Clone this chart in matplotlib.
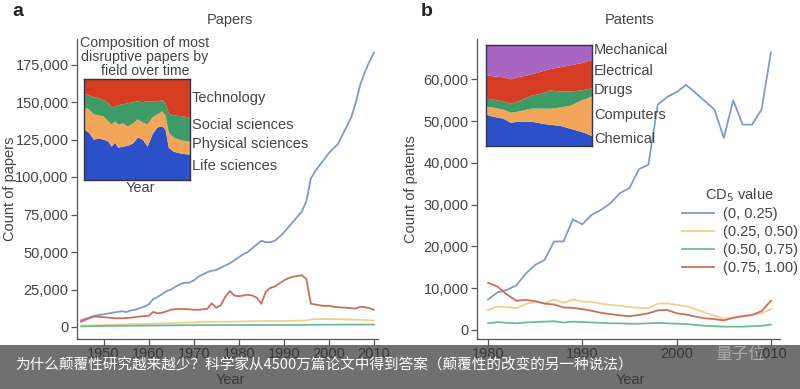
import matplotlib
matplotlib.use("Agg")
import matplotlib.pyplot as plt
from matplotlib.patches import Rectangle
from matplotlib.ticker import FuncFormatter

plt.rcParams['font.family'] = ['Liberation Sans', 'Noto Sans CJK SC', 'DejaVu Sans']

# ---------------- data: papers ----------------
paper_years = list(range(1945, 2011))
paper_cd_0_25 = [4500, 5500, 6500, 7500, 8000, 8500, 9000, 9500, 10000, 10500,
                 10000, 11000, 11500, 12500, 13500, 15000, 18500, 20000, 22000, 24000,
                 25000, 27000, 28500, 29500, 29500, 31000, 33500, 35000, 36500, 37500,
                 38000, 39500, 41000, 42500, 44500, 46500, 48500, 50000, 52500, 55000,
                 57500, 56500, 56500, 57500, 60000, 63000, 66500, 70000, 73500, 77000,
                 84000, 99000, 104000, 108000, 112000, 116000, 119000, 122000, 128000, 134000,
                 140000, 150000, 162000, 170000, 177000, 183000]
paper_cd_25_50 = [900, 1000, 1100, 1200, 1300, 1400, 1500, 1600, 1650, 1700,
                  1800, 1850, 1900, 1950, 2000, 2100, 2200, 2300, 2400, 2500,
                  2600, 2700, 2800, 2900, 3000, 3100, 3200, 3300, 3350, 3400,
                  3450, 3500, 3550, 3600, 3650, 3700, 3750, 3800, 3850, 3900,
                  3900, 3950, 3950, 4000, 4000, 4000, 4100, 4100, 4200, 4250,
                  4300, 5100, 5200, 5300, 5300, 5300, 5200, 5200, 5100, 5000,
                  5000, 4900, 4800, 4700, 4500, 4300]
paper_cd_50_75 = [400, 450, 500, 550, 600, 650, 700, 700, 750, 800,
                  800, 850, 850, 900, 900, 950, 1000, 1000, 1050, 1100,
                  1100, 1150, 1150, 1200, 1200, 1200, 1250, 1250, 1250, 1300,
                  1300, 1300, 1300, 1300, 1300, 1300, 1300, 1300, 1300, 1300,
                  1300, 1300, 1300, 1300, 1300, 1300, 1350, 1350, 1350, 1350,
                  1400, 1500, 1500, 1500, 1550, 1550, 1550, 1550, 1600, 1600,
                  1600, 1600, 1600, 1600, 1600, 1600]
paper_cd_75_100 = [3500, 4800, 6000, 7000, 6800, 6500, 6300, 6000, 5800, 5800,
                   6000, 6200, 6600, 7000, 7200, 7500, 10000, 9200, 9500, 10500,
                   11500, 12000, 12000, 12000, 11800, 11500, 11500, 11800, 12000, 15800,
                   12800, 14500, 20000, 24000, 21000, 20500, 21000, 21500, 21000, 19500,
                   15500, 23500, 26000, 27000, 29000, 31000, 32500, 33500, 34000, 34500,
                   32000, 15500, 15000, 14500, 14000, 14200, 13500, 13200, 13000, 12800,
                   12500, 12300, 13500, 13200, 12500, 11500]

# ---------------- data: patents ----------------
patent_years = list(range(1980, 2011))
patent_cd_0_25 = [7300, 9000, 9600, 10700, 13500, 15600, 16800, 21200, 21200, 26500,
                  25300, 27600, 28800, 30400, 32800, 34000, 38500, 39600, 54000, 55800,
                  57000, 58700, 56800, 54800, 52800, 46000, 55000, 49200, 49200, 52800,
                  66500]
patent_cd_25_50 = [4800, 5600, 5500, 5200, 6200, 6800, 6400, 7300, 6500, 7300,
                   6800, 6700, 6300, 6000, 5800, 5500, 5300, 5200, 6300, 6400,
                   6000, 5700, 5000, 4200, 3400, 2700, 3000, 3300, 3600, 4000,
                   5000]
patent_cd_50_75 = [1600, 1900, 1700, 1600, 1800, 1900, 2000, 2100, 1800, 2000,
                   1900, 1800, 1700, 1600, 1600, 1500, 1500, 1600, 1700, 1600,
                   1500, 1400, 1200, 1000, 900, 800, 800, 800, 900, 1000,
                   1300]
patent_cd_75_100 = [11300, 10400, 8500, 7000, 7200, 6900, 6300, 6100, 5400, 5300,
                    5000, 4600, 4100, 3800, 3500, 3300, 3600, 4000, 4700, 4800,
                    4000, 3700, 3200, 2800, 2600, 2300, 2900, 3300, 3600, 4500,
                    7000]

cd_labels = ['(0, 0.25)', '(0.25, 0.50)', '(0.50, 0.75)', '(0.75, 1.00)']
line_colors = ['#7f9ad0', '#f3cf8c', '#6dbb98', '#c8705c']

# ---------------- data: inset compositions ----------------
inset_a_years = [1945, 1948, 1951, 1954, 1957, 1960, 1962, 1964, 1966, 1969, 1972, 1975,
                 1978, 1981, 1984, 1987, 1990, 1993, 1995, 1997, 2000, 2005, 2010]
life_sci = [.50, .47, .40, .41, .40, .38, .33, .37, .32, .33, .34, .36,
            .42, .40, .33, .45, .52, .53, .50, .32, .28, .26, .25]
phys_sci = [.22, .23, .25, .23, .23, .20, .22, .21, .23, .23, .19, .20,
            .18, .17, .22, .17, .13, .15, .14, .15, .14, .13, .13]
soc_sci = [.13, .14, .17, .17, .16, .18, .17, .15, .19, .19, .23, .21,
           .18, .20, .23, .16, .13, .11, .12, .19, .22, .24, .24]
technology = [.15, .16, .18, .19, .21, .24, .28, .27, .26, .25, .24, .23,
              .22, .23, .22, .22, .22, .21, .24, .34, .36, .37, .38]
inset_a_labels = ['Life sciences', 'Physical sciences', 'Social sciences', 'Technology']

inset_b_years = [1980, 1982, 1985, 1987, 1989, 1993, 1996, 1998, 2001, 2004, 2007, 2010]
chemical = [.31, .29, .27, .23, .24, .24, .22, .21, .20, .17, .14, .10]
computers = [.08, .09, .09, .10, .10, .13, .15, .16, .18, .23, .31, .39]
drugs = [.08, .08, .08, .09, .10, .13, .15, .18, .16, .14, .10, .08]
electrical = [.23, .23, .24, .24, .24, .21, .22, .21, .24, .26, .27, .28]
mechanical = [.30, .31, .32, .34, .32, .29, .26, .24, .22, .20, .18, .15]
inset_b_labels = ['Chemical', 'Computers', 'Drugs', 'Electrical', 'Mechanical']

area_colors = ['#2b50c8', '#f3a65a', '#3d9c66', '#d63c22', '#a965c4']

caption = '为什么颠覆性研究越来越少？科学家从4500万篇论文中得到答案（颠覆性的改变的另一种说法）'

# ---------------- figure ----------------
W, H = 800, 389
fig = plt.figure(figsize=(8, 3.89), dpi=100)

def fx(px):
    return px / W

def fy(py):
    return 1 - py / H

txt_col = '#444444'
fs = 10.5

def style_axes(ax):
    for s in ['top', 'right']:
        ax.spines[s].set_visible(False)
    for s in ['left', 'bottom']:
        ax.spines[s].set_color('#555555')
        ax.spines[s].set_linewidth(0.9)
    ax.tick_params(axis='both', direction='out', length=4, width=0.9,
                   colors='#555555', labelcolor=txt_col, labelsize=fs, pad=2)
    ax.yaxis.set_major_formatter(FuncFormatter(lambda v, p: f'{int(v):,}'))

# Panel a
ax1 = fig.add_axes([fx(77), fy(339), fx(378 - 77), (339 - 39) / H])
style_axes(ax1)
ax1.plot(paper_years, paper_cd_0_25, color=line_colors[0], lw=1.3)
ax1.plot(paper_years, paper_cd_25_50, color=line_colors[1], lw=1.3)
ax1.plot(paper_years, paper_cd_50_75, color=line_colors[2], lw=1.3)
ax1.plot(paper_years, paper_cd_75_100, color=line_colors[3], lw=1.3)
ax1.set_xlim(1944.1, 2010.9)
ax1.set_ylim(-8000, 192000)
ax1.set_xticks([1950, 1960, 1970, 1980, 1990, 2000, 2010])
ax1.set_yticks([0, 25000, 50000, 75000, 100000, 125000, 150000, 175000])

# Panel b
ax2 = fig.add_axes([fx(477), fy(339), fx(780 - 477), (339 - 39) / H])
style_axes(ax2)
handles = []
for vals, c, lab in zip([patent_cd_0_25, patent_cd_25_50, patent_cd_50_75, patent_cd_75_100],
                        line_colors, cd_labels):
    h, = ax2.plot(patent_years, vals, color=c, lw=1.3, label=lab)
    handles.append(h)
ax2.set_xlim(1978.83, 2010.96)
ax2.set_ylim(-2160, 69700)
ax2.set_xticks([1980, 1990, 2000, 2010])
ax2.set_yticks([0, 10000, 20000, 30000, 40000, 50000, 60000])

leg = ax2.legend(handles=handles, loc='upper left', frameon=False,
                 bbox_to_anchor=(fx(676), fy(180)), bbox_transform=fig.transFigure,
                 fontsize=fs, title='CD$_5$ value', title_fontsize=fs,
                 handlelength=2.2, handletextpad=0.6, labelspacing=0.27, borderaxespad=0)
for t in leg.get_texts():
    t.set_color(txt_col)
leg.get_title().set_color(txt_col)

# Panel labels, titles, axis labels
fig.text(fx(12), fy(12), 'a', fontsize=14, fontweight='bold', color='#222222', va='center', ha='left')
fig.text(fx(421), fy(12), 'b', fontsize=14, fontweight='bold', color='#222222', va='center', ha='left')
fig.text(fx(230), fy(20), 'Papers', fontsize=fs, color=txt_col, ha='center', va='center')
fig.text(fx(630), fy(20), 'Patents', fontsize=fs, color=txt_col, ha='center', va='center')
fig.text(fx(10), fy(189), 'Count of papers', fontsize=fs, color=txt_col, rotation=90,
         ha='center', va='center')
fig.text(fx(411), fy(189), 'Count of patents', fontsize=fs, color=txt_col, rotation=90,
         ha='center', va='center')
fig.text(fx(230), fy(380), 'Year', fontsize=fs, color=txt_col, ha='center', va='center')
fig.text(fx(630), fy(380), 'Year', fontsize=fs, color=txt_col, ha='center', va='center')

# Inset a
ia = fig.add_axes([fx(84), fy(180), fx(106), 101 / H])
ia.stackplot(inset_a_years, life_sci, phys_sci, soc_sci, technology,
             colors=area_colors[:4], lw=0)
ia.set_xlim(inset_a_years[0], inset_a_years[-1])
ia.set_ylim(0, 1)
ia.set_xticks([]); ia.set_yticks([])
for s in ia.spines.values():
    s.set_color('#333344'); s.set_linewidth(1.0)
for line, yp in zip(['Composition of most', 'disruptive papers by', 'field over time'],
                    [43, 57, 71]):
    fig.text(fx(145), fy(yp), line, fontsize=10.2, color=txt_col, ha='center', va='center')
fig.text(fx(140), fy(188), 'Year', fontsize=fs, color=txt_col, ha='center', va='center')
for lab, yp in zip(inset_a_labels, [166, 144, 125, 98]):
    fig.text(fx(192), fy(yp), lab, fontsize=fs, color=txt_col, ha='left', va='center')

# Inset b
ib = fig.add_axes([fx(486), fy(146), fx(106), 101 / H])
ib.stackplot(inset_b_years, chemical, computers, drugs, electrical, mechanical,
             colors=area_colors, lw=0)
ib.set_xlim(inset_b_years[0], inset_b_years[-1])
ib.set_ylim(0, 1)
ib.set_xticks([]); ib.set_yticks([])
for s in ib.spines.values():
    s.set_color('#333344'); s.set_linewidth(1.0)
for lab, yp in zip(inset_b_labels, [139, 115, 90, 71, 50]):
    fig.text(fx(594), fy(yp), lab, fontsize=fs, color=txt_col, ha='left', va='center')

# Caption banner overlay
banner = Rectangle((0, 0), 1, fy(345), transform=fig.transFigure,
                   facecolor='#333333', alpha=0.7, edgecolor='none', zorder=10)
fig.add_artist(banner)
fig.text(fx(15), fy(366), caption, fontsize=10.5, color='white', ha='left', va='center',
         family=['Noto Sans CJK SC', 'DejaVu Sans'], zorder=11)
fig.text(fx(740), fy(354), '量子位', fontsize=12, color='#bbbbbb', alpha=0.8, ha='center',
         va='center', family=['Noto Sans CJK SC', 'DejaVu Sans'], zorder=11)

fig.savefig('out.png', dpi=100)
